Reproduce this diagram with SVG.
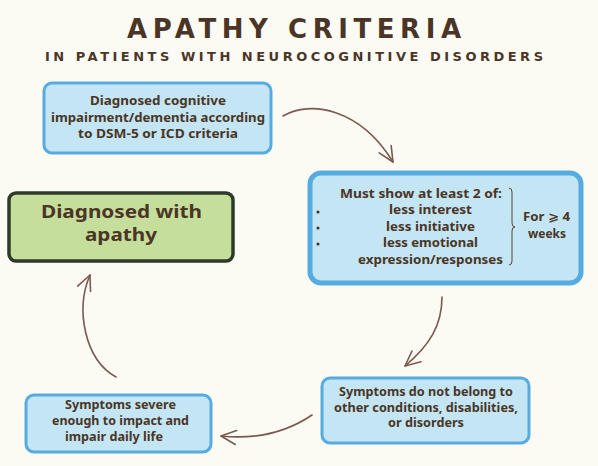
<svg xmlns="http://www.w3.org/2000/svg" width="598" height="466" viewBox="0 0 598 466">
<defs>
<style>
.bg{fill:#fbfbf4}
.blue{fill:#c4e5f3;stroke:#56ace0;stroke-width:3}
.green{fill:#c6de9b;stroke:#2e3b2b;stroke-width:3.5}
.t{font-family:"Noto Sans","DejaVu Sans",sans-serif;font-weight:bold;font-size:12px;fill:#4a3526;text-anchor:middle}
.big{font-size:17px}
.title{font-family:"DejaVu Sans",sans-serif;font-weight:bold;fill:#4a3526}
.conn{fill:none;stroke:#7a5a50;stroke-width:1.6;stroke-linecap:round}
</style>
<marker id="ah" viewBox="-18 -10 20 20" refX="0" refY="0" markerWidth="20" markerHeight="20" markerUnits="userSpaceOnUse" orient="auto" overflow="visible">
<path d="M-15,-7 L0,0 L-15,7" fill="none" stroke="#7a5a50" stroke-width="1.6" stroke-linecap="round" stroke-linejoin="round"/>
</marker>
</defs>
<rect class="bg" x="0" y="0" width="598" height="466"/>
<g id="title">
<text class="title" x="127" y="38" font-size="26" textLength="334" lengthAdjust="spacing">APATHY CRITERIA</text>
<text class="title" x="45" y="61" font-size="13" textLength="498" lengthAdjust="spacing">IN PATIENTS WITH NEUROCOGNITIVE DISORDERS</text>
</g>
<g id="connectors">
<path class="conn" d="M283,116 C310,100 360,108 393,162" marker-end="url(#ah)"/>
<path class="conn" d="M442,297 C442,325 430,345 405,366" marker-end="url(#ah)"/>
<path class="conn" d="M312,415 C290,430 260,440 221,436" marker-end="url(#ah)"/>
<path class="conn" d="M116,377 C85,360 75,310 90,275" marker-end="url(#ah)"/>
</g>
<g id="node-cognitive">
<rect class="blue" x="44" y="83" width="227" height="70" rx="8"/>
<text class="t" x="158" y="105" textLength="136" lengthAdjust="spacingAndGlyphs">Diagnosed cognitive</text>
<text class="t" x="158" y="122" textLength="214" lengthAdjust="spacingAndGlyphs">impairment/dementia according</text>
<text class="t" x="158" y="138" textLength="160" lengthAdjust="spacingAndGlyphs">to DSM-5 or ICD criteria</text>
</g>
<g id="node-criteria">
<rect class="blue" x="310" y="173" width="271" height="110" rx="11" style="stroke-width:5"/>
<text class="t" x="421" y="198" textLength="162" lengthAdjust="spacingAndGlyphs">Must show at least 2 of:</text>
<circle cx="318" cy="212" r="1.6" fill="#4a3526"/>
<circle cx="318" cy="228" r="1.6" fill="#4a3526"/>
<circle cx="318" cy="244" r="1.6" fill="#4a3526"/>
<text class="t" x="430.5" y="214" textLength="83" lengthAdjust="spacingAndGlyphs">less interest</text>
<text class="t" x="430.5" y="231" textLength="89" lengthAdjust="spacingAndGlyphs">less initiative</text>
<text class="t" x="430.5" y="247" textLength="95" lengthAdjust="spacingAndGlyphs">less emotional</text>
<text class="t" x="430.5" y="264" textLength="145" lengthAdjust="spacingAndGlyphs">expression/responses</text>
<path d="M509,188 Q512,188 512,192 L512,223 Q512,227 515,227 Q512,227 512,231 L512,261 Q512,265 509,265" fill="none" stroke="#4a3526" stroke-width="0.9"/>
<text class="t" x="546.5" y="221" textLength="47" lengthAdjust="spacingAndGlyphs">For ⩾ 4</text>
<text class="t" x="547" y="238" textLength="38" lengthAdjust="spacingAndGlyphs">weeks</text>
</g>
<g id="node-apathy">
<rect class="green" x="9" y="193" width="224" height="68" rx="7"/>
<text class="t big" x="121.5" y="218" textLength="161" lengthAdjust="spacingAndGlyphs">Diagnosed with</text>
<text class="t big" x="121" y="241" textLength="72" lengthAdjust="spacingAndGlyphs">apathy</text>
</g>
<g id="node-exclusion">
<rect class="blue" x="322" y="378" width="207" height="65" rx="8"/>
<text class="t" x="426" y="396" textLength="174" lengthAdjust="spacingAndGlyphs">Symptoms do not belong to</text>
<text class="t" x="426" y="411.5" textLength="184" lengthAdjust="spacingAndGlyphs">other conditions, disabilities,</text>
<text class="t" x="426" y="427" textLength="76" lengthAdjust="spacingAndGlyphs">or disorders</text>
</g>
<g id="node-severity">
<rect class="blue" x="26" y="395" width="185" height="57" rx="8"/>
<text class="t" x="120.5" y="409" textLength="111" lengthAdjust="spacingAndGlyphs">Symptoms severe</text>
<text class="t" x="120.5" y="425" textLength="137" lengthAdjust="spacingAndGlyphs">enough to impact and</text>
<text class="t" x="114" y="441" textLength="98" lengthAdjust="spacingAndGlyphs">impair daily life</text>
</g>
</svg>
